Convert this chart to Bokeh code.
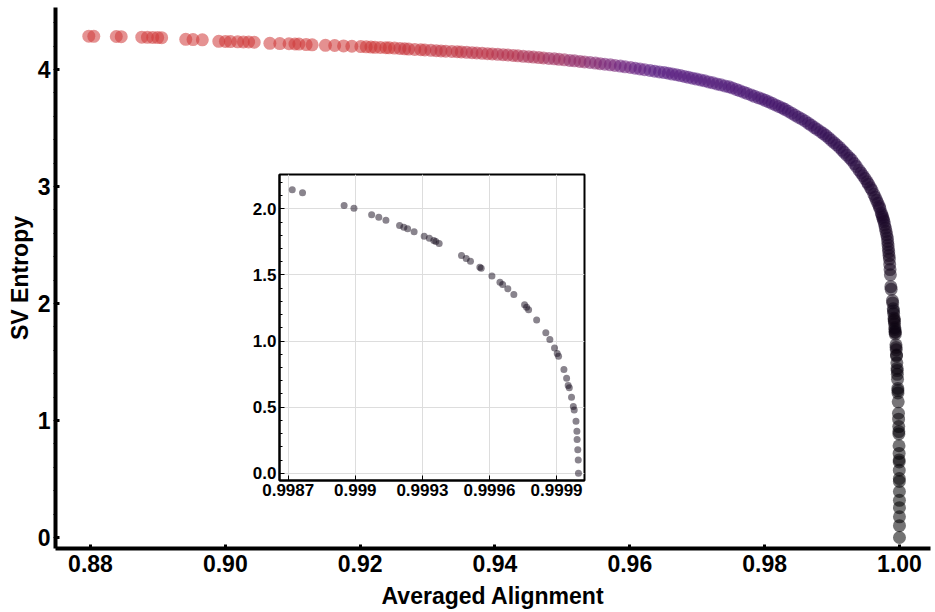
import numpy as np
from bokeh.plotting import figure
from bokeh.models import ColumnDataSource, Range1d, FixedTicker, LinearColorMapper, CustomJSTickFormatter
from bokeh.layouts import column
from bokeh.embed import file_html
from bokeh.resources import INLINE

# ---------------- data ----------------
# upper part of the curve (main plot only)
main_alignment = [
    0.87975, 0.88049, 0.88383, 0.88456, 0.88761, 0.88844, 0.88923, 0.88997, 0.89056,
    0.89413, 0.89521, 0.89659, 0.89903, 0.90002, 0.90076, 0.90183, 0.90268, 0.90346,
    0.90429, 0.90661, 0.90808, 0.90945, 0.91033, 0.91092, 0.91199, 0.91288, 0.91485,
    0.91622, 0.91754, 0.91877,
    0.9201, 0.9209, 0.9216, 0.9222, 0.9230, 0.9238, 0.9243, 0.9251, 0.9259, 0.9266,
    0.9272, 0.9281, 0.9290, 0.9296, 0.9305, 0.9313, 0.9320, 0.9327, 0.9336, 0.9344,
    0.9350, 0.9358, 0.9366, 0.9373, 0.9381, 0.9389, 0.9396, 0.9404, 0.9412, 0.9419,
    0.9427, 0.9434, 0.9442, 0.9450, 0.9457, 0.9465, 0.9472, 0.9480, 0.9488, 0.9495,
    0.9503, 0.9511, 0.9518, 0.9526, 0.9533, 0.9541, 0.9549, 0.9556, 0.9563, 0.9571,
    0.9578, 0.9586, 0.9593, 0.9601, 0.9608, 0.9615, 0.9622, 0.9630, 0.9637, 0.9644,
    0.9651, 0.9657, 0.9663, 0.9669, 0.9675, 0.9681, 0.9687, 0.9693, 0.9699, 0.9705,
    0.9711, 0.9717, 0.9723, 0.9729, 0.9735, 0.9741, 0.9747, 0.9752, 0.9758, 0.9763,
    0.9769, 0.9774, 0.9780, 0.9785, 0.9791, 0.9796, 0.9801, 0.9806, 0.9811, 0.9816,
    0.9821, 0.9826, 0.9830, 0.9835, 0.9840, 0.9845, 0.9850, 0.9855, 0.9860, 0.9865,
    0.9869, 0.9874, 0.9878, 0.9883, 0.9887, 0.9891, 0.9895, 0.9899, 0.9903, 0.9907,
    0.9911, 0.9915, 0.9918, 0.9922, 0.9926, 0.9929, 0.9933, 0.9936, 0.9940, 0.9943,
    0.9946, 0.9949, 0.9952, 0.9954, 0.9957, 0.9959, 0.9962, 0.9964, 0.9966, 0.9968,
    0.9970, 0.9971, 0.9973, 0.9974, 0.9975, 0.9976, 0.9977, 0.9978, 0.9979, 0.9980,
    0.9981, 0.9982, 0.99825, 0.9983, 0.99835, 0.9984, 0.99845, 0.9985, 0.99855, 0.9986,
    0.99865,
]
main_entropy = [
    4.285, 4.284, 4.282, 4.281, 4.276, 4.275, 4.274, 4.273, 4.272,
    4.258, 4.256, 4.254, 4.241, 4.240, 4.239, 4.237, 4.236, 4.235,
    4.233, 4.224, 4.222, 4.220, 4.218, 4.217, 4.213, 4.211, 4.207,
    4.205, 4.202, 4.199,
    4.196, 4.194, 4.192, 4.190, 4.188, 4.186, 4.185, 4.183, 4.180, 4.177,
    4.175, 4.172, 4.169, 4.167, 4.164, 4.161, 4.159, 4.157, 4.154, 4.152,
    4.150, 4.147, 4.144, 4.141, 4.138, 4.135, 4.133, 4.130, 4.127, 4.124,
    4.120, 4.117, 4.113, 4.110, 4.106, 4.102, 4.099, 4.095, 4.091, 4.087,
    4.083, 4.078, 4.074, 4.069, 4.065, 4.060, 4.055, 4.050, 4.045, 4.040,
    4.035, 4.029, 4.023, 4.017, 4.011, 4.005, 3.999, 3.992, 3.986, 3.979,
    3.974, 3.968, 3.961, 3.955, 3.948, 3.941, 3.933, 3.926, 3.918, 3.911,
    3.903, 3.894, 3.886, 3.877, 3.869, 3.860, 3.852, 3.843, 3.830, 3.819,
    3.806, 3.795, 3.782, 3.771, 3.758, 3.748, 3.737, 3.724, 3.711, 3.697,
    3.684, 3.671, 3.660, 3.643, 3.627, 3.610, 3.593, 3.577, 3.560, 3.540,
    3.524, 3.504, 3.488, 3.468, 3.452, 3.435, 3.415, 3.395, 3.375, 3.355,
    3.334, 3.310, 3.292, 3.268, 3.244, 3.226, 3.196, 3.172, 3.140, 3.116,
    3.092, 3.068, 3.040, 3.020, 2.990, 2.970, 2.934, 2.908, 2.882, 2.856,
    2.830, 2.811, 2.774, 2.756, 2.737, 2.719, 2.700, 2.672, 2.644, 2.616,
    2.588, 2.560, 2.530, 2.500, 2.470, 2.440, 2.410, 2.380, 2.335, 2.290,
    2.245,
]

# lower part of the curve (shown in the inset and at the bottom of the main plot)
inset_alignment = [
    0.998718, 0.998764, 0.998950, 0.998994, 0.999073, 0.999105, 0.999137, 0.999198,
    0.999217, 0.999234, 0.999263, 0.999308, 0.999331, 0.999351, 0.999360, 0.999375,
    0.999475, 0.999496, 0.999515, 0.999557, 0.999563, 0.999611, 0.999647, 0.999659,
    0.999682, 0.999709, 0.999757, 0.999766, 0.999775, 0.999811, 0.999852, 0.999870,
    0.999891, 0.999903, 0.999909, 0.999933, 0.999945, 0.999952, 0.999957, 0.999967,
    0.999975, 0.999979, 0.999987, 0.999991, 0.999992, 0.999995, 0.999997, 0.999998,
]
inset_entropy = [
    2.144, 2.121, 2.025, 2.005, 1.955, 1.937, 1.914, 1.874,
    1.861, 1.849, 1.826, 1.793, 1.778, 1.760, 1.753, 1.738,
    1.647, 1.624, 1.604, 1.559, 1.551, 1.493, 1.445, 1.427,
    1.395, 1.352, 1.274, 1.256, 1.236, 1.160, 1.062, 1.011,
    0.948, 0.905, 0.885, 0.784, 0.719, 0.663, 0.646, 0.575,
    0.504, 0.479, 0.393, 0.318, 0.255, 0.177, 0.101, 0.000,
]

main_x_ticks = [0.88, 0.90, 0.92, 0.94, 0.96, 0.98, 1.00]
main_y_ticks = [0, 1, 2, 3, 4]
inset_x_ticks = [0.9987, 0.9990, 0.9993, 0.9996, 0.9999]
inset_y_ticks = [0.0, 0.5, 1.0, 1.5, 2.0]

# ---------------- styling ----------------
FONT = "Liberation Sans"

# colour scale along entropy: black -> dark purple -> purple -> magenta -> red
anchors = [(0.0, "#000000"), (1.0, "#050208"), (2.2, "#120618"), (3.0, "#200932"),
           (3.6, "#3a1060"), (3.8, "#481572"), (4.0, "#581a80"), (4.05, "#782276"),
           (4.13, "#b22d48"), (4.20, "#cc3434"), (4.30, "#d03a3a")]
lo, hi = 0.0, 4.30
levels = np.linspace(lo, hi, 256)
av = [a[0] for a in anchors]
rgb = np.array([[int(c[i:i + 2], 16) for i in (1, 3, 5)] for _, c in anchors], dtype=float)
palette = []
for v in levels:
    r, g, b = (np.interp(v, av, rgb[:, k]) for k in range(3))
    palette.append("#%02x%02x%02x" % (int(round(r)), int(round(g)), int(round(b))))
mapper = LinearColorMapper(palette=palette, low=lo, high=hi)

# the column aligns the left/right borders of both figures, so they share them
BL, BR = 55, 5

# ---------------- main figure ----------------
W, H = 935, 612
p = figure(width=W, height=H,
           x_range=Range1d(0.87481, 1.0046), y_range=Range1d(-0.094, 4.530),
           output_backend="svg", toolbar_location=None,
           min_border_left=BL, min_border_right=BR, min_border_top=7, min_border_bottom=64)
p.outline_line_color = None
p.grid.visible = False
p.background_fill_color = "white"
p.border_fill_color = "white"

all_x = main_alignment + inset_alignment
all_y = main_entropy + inset_entropy
src = ColumnDataSource(dict(x=all_x, y=all_y))
p.scatter("x", "y", source=src, size=13, line_color=None,
          fill_color={"field": "y", "transform": mapper}, fill_alpha=0.55)

for ax in (p.xaxis[0], p.yaxis[0]):
    ax.axis_line_width = 4
    ax.axis_line_color = "black"
    ax.major_tick_in = 4
    ax.major_tick_out = 0
    ax.major_tick_line_width = 3
    ax.major_label_text_font = FONT
    ax.major_label_text_font_style = "bold"
    ax.major_label_text_font_size = "23px"
    ax.major_label_text_color = "black"
    ax.axis_label_text_font = FONT
    ax.axis_label_text_font_style = "bold"
    ax.axis_label_text_font_size = "23px"
    ax.axis_label_text_color = "black"

p.xaxis.ticker = FixedTicker(ticks=main_x_ticks)
p.xaxis.formatter = CustomJSTickFormatter(code="return tick.toFixed(2);")
p.xaxis.minor_tick_line_color = None
p.xaxis.major_label_standoff = 6
p.xaxis.axis_label = "Averaged Alignment"
p.xaxis.axis_label_standoff = 8

p.yaxis.ticker = FixedTicker(ticks=main_y_ticks,
                             minor_ticks=[i / 5 for i in range(0, 23)])
p.yaxis.formatter = CustomJSTickFormatter(code="return tick.toFixed(0);")
p.yaxis.minor_tick_in = 0
p.yaxis.minor_tick_out = 2
p.yaxis.minor_tick_line_width = 1
p.yaxis.major_label_standoff = 3
p.yaxis.axis_label = "SV Entropy"
p.yaxis.axis_label_standoff = 2

# ---------------- inset figure ----------------
IN_W, IN_H = BL + 305 + BR, 336
inset = figure(width=IN_W, height=IN_H,
               x_range=Range1d(0.998661, 1.000025), y_range=Range1d(-0.055, 2.26),
               output_backend="svg", toolbar_location=None,
               min_border_left=BL, min_border_right=BR, min_border_top=4, min_border_bottom=26)
inset.outline_line_color = "black"
inset.outline_line_width = 2
inset.background_fill_color = "white"
inset.border_fill_color = "white"
inset.scatter(inset_alignment, inset_entropy, size=7, line_color=None,
              fill_color="#140a1c", fill_alpha=0.5)

inset.xaxis.ticker = FixedTicker(ticks=inset_x_ticks)
inset.xaxis.formatter = CustomJSTickFormatter(code="return String(Number(tick.toFixed(4)));")
inset.yaxis.ticker = FixedTicker(ticks=inset_y_ticks,
                                 minor_ticks=[i / 10 for i in range(0, 23)])
inset.yaxis.formatter = CustomJSTickFormatter(code="return tick.toFixed(1);")
inset.xgrid.ticker = FixedTicker(ticks=inset_x_ticks)
inset.ygrid.ticker = FixedTicker(ticks=inset_y_ticks)
inset.grid.grid_line_color = "#dddddd"
inset.grid.grid_line_width = 1
for ax in (inset.xaxis[0], inset.yaxis[0]):
    ax.axis_line_width = 2
    ax.axis_line_color = "black"
    ax.major_tick_in = 5
    ax.major_tick_out = 0
    ax.major_tick_line_width = 1
    ax.major_label_standoff = 3
    ax.major_label_text_font = FONT
    ax.major_label_text_font_style = "bold"
    ax.major_label_text_font_size = "17px"
    ax.major_label_text_color = "black"
inset.xaxis.minor_tick_line_color = None
inset.yaxis.minor_tick_in = 3
inset.yaxis.minor_tick_out = 0

# place the inset over the main plot (inset frame top-left at about 283,174)
MT = 170 - H
inset.margin = (MT, 0, -MT - IN_H, 279 - BL)

layout = column(p, inset, spacing=0)

open("out.html", "w").write(file_html(layout, INLINE))
